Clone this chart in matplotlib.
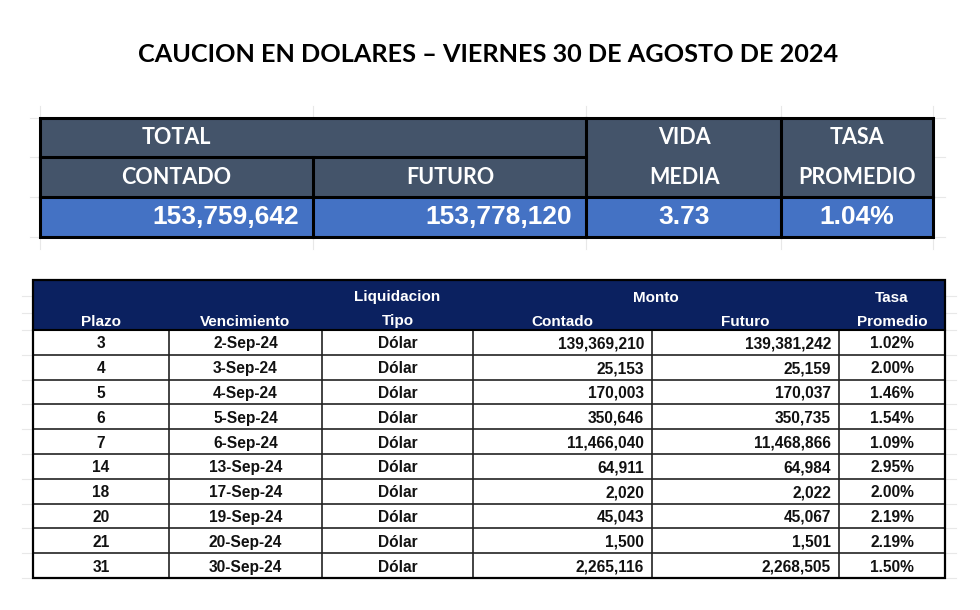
import matplotlib.pyplot as plt
from matplotlib.patches import Rectangle

# Datos
titulo = "CAUCION EN DOLARES – VIERNES 30 DE AGOSTO DE 2024"

total_contado = "153,759,642"
total_futuro = "153,778,120"
vida_media = "3.73"
tasa_promedio = "1.04%"

plazos = [3, 4, 5, 6, 7, 14, 18, 20, 21, 31]
vencimientos = ["2-Sep-24", "3-Sep-24", "4-Sep-24", "5-Sep-24", "6-Sep-24",
                "13-Sep-24", "17-Sep-24", "19-Sep-24", "20-Sep-24", "30-Sep-24"]
tipos = ["Dólar"] * 10
monto_contado = [139369210, 25153, 170003, 350646, 11466040,
                 64911, 2020, 45043, 1500, 2265116]
monto_futuro = [139381242, 25159, 170037, 350735, 11468866,
                64984, 2022, 45067, 1501, 2268505]
tasas = [1.02, 2.00, 1.46, 1.54, 1.09, 2.95, 2.00, 2.19, 2.19, 1.50]

# Colores
gris_azul = "#44546a"
azul = "#4472c4"
azul_osc = "#0b2160"
grilla = "#e8e8e8"

fig = plt.figure(figsize=(9.8, 6.1), dpi=100)
ax = fig.add_axes([0, 0, 1, 1])
ax.set_xlim(0, 980)
ax.set_ylim(610, 0)
ax.axis("off")

ax.text(488, 55, titulo, ha="center", va="center", fontsize=18.2,
        fontweight="bold", family="Lato", color="black")

# ---- Tabla superior ----
tx = [40, 313, 586, 781, 933]
ty = [118, 157, 197, 237]

# grilla de excel de fondo
for x in tx:
    ax.plot([x, x], [106, 249], color=grilla, lw=0.8, zorder=0)
for y in ty:
    ax.plot([30, 945], [y, y], color=grilla, lw=0.8, zorder=0)

ax.add_patch(Rectangle((tx[0], ty[0]), tx[-1] - tx[0], ty[2] - ty[0],
                       facecolor=gris_azul, edgecolor="none", zorder=1))
ax.add_patch(Rectangle((tx[0], ty[2]), tx[-1] - tx[0], ty[3] - ty[2],
                       facecolor=azul, edgecolor="none", zorder=1))

lw_top = 2.2
ax.add_patch(Rectangle((tx[0], ty[0]), tx[-1] - tx[0], ty[3] - ty[0],
                       facecolor="none", edgecolor="black", lw=lw_top, zorder=3))
ax.plot([tx[0], tx[2]], [ty[1], ty[1]], color="black", lw=lw_top, zorder=3)
ax.plot([tx[0], tx[-1]], [ty[2], ty[2]], color="black", lw=lw_top, zorder=3)
ax.plot([tx[1], tx[1]], [ty[1], ty[3]], color="black", lw=lw_top, zorder=3)
for x in tx[2:4]:
    ax.plot([x, x], [ty[0], ty[3]], color="black", lw=lw_top, zorder=3)

hdr = dict(ha="center", va="center", fontsize=15.5, fontweight="bold",
           family="Lato", color="white", zorder=4)
ax.text(176, 138, "TOTAL", **hdr)
ax.text(176, 178, "CONTADO", **hdr)
ax.text(450, 178, "FUTURO", **hdr)
ax.text(684, 138, "VIDA", **hdr)
ax.text(684, 178, "MEDIA", **hdr)
ax.text(857, 138, "TASA", **hdr)
ax.text(857, 178, "PROMEDIO", **hdr)

val = dict(va="center", fontsize=19, fontweight="bold",
           family="Liberation Sans", color="white", zorder=4)
ax.text(tx[1] - 14, 217, total_contado, ha="right", **val)
ax.text(tx[2] - 14, 217, total_futuro, ha="right", **val)
ax.text(684, 217, vida_media, ha="center", **val)
ax.text(857, 217, tasa_promedio, ha="center", **val)

# ---- Tabla inferior ----
bx = [33, 169, 322, 473, 652, 839, 945]
y_hdr = 280
y0 = 330
alto = 24.8
n = len(plazos)
y_fin = y0 + n * alto

for i in range(n + 1):
    ax.plot([22, 956], [y0 + i * alto] * 2, color=grilla, lw=0.8, zorder=0)
for y in [296, 313]:
    ax.plot([22, 956], [y, y], color=grilla, lw=0.8, zorder=0)

ax.add_patch(Rectangle((bx[0], y_hdr), bx[-1] - bx[0], y0 - y_hdr,
                       facecolor=azul_osc, edgecolor="none", zorder=1))
ax.add_patch(Rectangle((bx[0], y0), bx[-1] - bx[0], y_fin - y0,
                       facecolor="white", edgecolor="none", zorder=1))

for i in range(1, n):
    ax.plot([bx[0], bx[-1]], [y0 + i * alto] * 2, color="#222222", lw=1.2, zorder=3)
for x in bx[1:-1]:
    ax.plot([x, x], [y0, y_fin], color="#222222", lw=1.2, zorder=3)
ax.plot([bx[0], bx[-1]], [y0, y0], color="black", lw=1.5, zorder=3)
ax.add_patch(Rectangle((bx[0], y_hdr), bx[-1] - bx[0], y_fin - y_hdr,
                       facecolor="none", edgecolor="black", lw=1.6, zorder=3))

bh = dict(ha="center", va="center_baseline", fontsize=11, fontweight="bold",
          family="Liberation Sans", color="white", zorder=4)
ax.text((bx[0] + bx[1]) / 2, 320, "Plazo", **bh)
ax.text((bx[1] + bx[2]) / 2, 320, "Vencimiento", **bh)
ax.text((bx[2] + bx[3]) / 2, 296, "Liquidacion", **bh)
ax.text((bx[2] + bx[3]) / 2, 320, "Tipo", **bh)
ax.text((bx[3] + bx[5]) / 2, 296, "Monto", **bh)
ax.text((bx[3] + bx[4]) / 2, 320, "Contado", **bh)
ax.text((bx[4] + bx[5]) / 2, 320, "Futuro", **bh)
ax.text((bx[5] + bx[6]) / 2, 296, "Tasa", **bh)
ax.text((bx[5] + bx[6]) / 2, 320, "Promedio", **bh)

bc = dict(va="center_baseline", fontsize=11.2, fontweight="bold",
          family="Liberation Sans", color="#111111", zorder=4)
for i in range(n):
    yc = y0 + (i + 0.5) * alto
    ax.text((bx[0] + bx[1]) / 2, yc, str(plazos[i]), ha="center", **bc)
    ax.text((bx[1] + bx[2]) / 2, yc, vencimientos[i], ha="center", **bc)
    ax.text((bx[2] + bx[3]) / 2, yc, tipos[i], ha="center", **bc)
    ax.text(bx[4] - 8, yc, f"{monto_contado[i]:,}", ha="right", **bc)
    ax.text(bx[5] - 8, yc, f"{monto_futuro[i]:,}", ha="right", **bc)
    ax.text((bx[5] + bx[6]) / 2, yc, f"{tasas[i]:.2f}%", ha="center", **bc)

fig.savefig("out.png", dpi=100, facecolor="white")
